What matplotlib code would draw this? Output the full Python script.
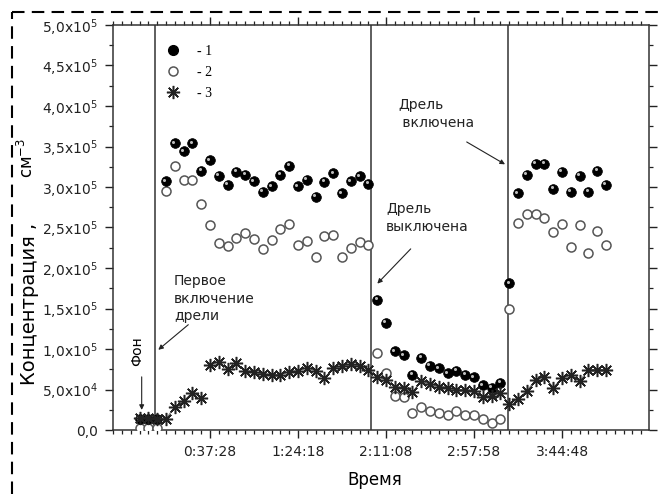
import numpy as np
import matplotlib
matplotlib.use("Agg")
import matplotlib.pyplot as plt
import matplotlib.transforms as mtransforms
from matplotlib.lines import Line2D
from matplotlib.ticker import FixedLocator, FuncFormatter, MultipleLocator

plt.rcParams["font.family"] = ["DejaVu Sans"]
plt.rcParams["mathtext.default"] = "regular"

# measurement times, seconds from the start of the run
t_sec = [0, 281, 562, 843, 1124, 1405, 1686, 1967, 2248, 2529,
         2810, 3091, 3372, 3653, 3934, 4215, 4496, 4777, 5058, 5339,
         5620, 5901, 6182, 6463, 6744, 7025, 7306, 7587, 7868, 8149,
         8430, 8711, 8992, 9273, 9554, 9835, 10116, 10397, 10678, 10959,
         11240, 11521, 11802, 12083, 12364, 12645, 12926, 13207, 13488, 13769,
         14050, 14331, 14612, 14893]

# concentrations, thousands of particles per cm^3
conc_1 = [13, 13, 13, 307, 354, 344, 354, 320, 333, 314,
          303, 319, 315, 307, 294, 301, 315, 326, 301, 309,
          288, 306, 317, 292, 307, 313, 304, 161, 132, 97,
          92, 68, 89, 79, 76, 70, 73, 68, 65, 55,
          52, 58, 181, 292, 315, 329, 329, 298, 319, 294,
          314, 294, 320, 303]
conc_2 = [2.5, 2.5, 2.5, 295, 326, 309, 309, 279, 253, 231,
          227, 237, 243, 236, 224, 234, 248, 254, 228, 233,
          214, 240, 241, 213, 225, 232, 229, 95, 70, 42,
          41, 21, 28, 23, 21, 19, 23, 19, 18, 13,
          9, 13, 149, 255, 267, 267, 262, 244, 254, 226,
          253, 219, 246, 229]
conc_3 = [14.5, 14.5, 14.0, 13.6, 28.8, 35.9, 46.2, 40.0, 80.4, 84.5,
          75.1, 82.5, 73.0, 72.2, 69.3, 68.1, 68.1, 72.2, 73.0, 77.1,
          73.0, 64.0, 76.4, 79.6, 81.3, 79.6, 74.3, 66.0, 61.9, 53.6,
          51.6, 46.7, 60.6, 56.6, 53.6, 52.4, 49.5, 49.5, 48.3, 41.2,
          42.4, 45.4, 31.8, 38.4, 48.3, 61.9, 66.0, 52.4, 64.0, 68.1,
          60.6, 74.3, 74.3, 74.3]

# drill switched on / off / on again
events_sec = [492, 7388, 11773]

t = np.array(t_sec)
c1 = np.array(conc_1) * 1e3
c2 = np.array(conc_2) * 1e3
c3 = np.array(conc_3) * 1e3

fig = plt.figure(figsize=(6.61, 4.94), dpi=100)
ax = fig.add_axes([113 / 661, 64 / 494, 536 / 661, 405 / 494])

ax.set_xlim(-849, 16264)
ax.set_ylim(0, 5e5)

for ev in events_sec:
    ax.axvline(ev, color="#333333", lw=1.1, zorder=1)

ax.plot(t, c2, "o", ms=6.5, mfc="white", mec="#555555", mew=1.1, zorder=3)
ax.plot(t, c1, "o", ms=7, mfc="black", mec="black", mew=0.5, zorder=4)
shine = mtransforms.offset_copy(ax.transData, fig=fig, x=-1.2, y=1.2, units="points")
ax.plot(t, c1, "o", ms=2.2, color="#bdbdbd", mew=0, transform=shine, zorder=4.5)

star = (8, 2, 0)
ax.plot(t[:8], c3[:8], "-", color="#777777", lw=0.8, zorder=5)
ax.plot(t[8:], c3[8:], "-", color="#777777", lw=0.8, zorder=5)
ax.plot(t, c3, ls="none", marker=star, ms=9.5, mec="#222222", mew=1.1, zorder=6)

# ticks
ax.xaxis.set_major_locator(FixedLocator([2248 + 2810 * i for i in range(5)]))
ax.xaxis.set_minor_locator(MultipleLocator(281))


def hms(v, pos=None):
    v = int(round(v))
    return "%d:%02d:%02d" % (v // 3600, v % 3600 // 60, v % 60)


def sci(v, pos=None):
    if abs(v) < 1:
        return "0,0"
    if v < 0:
        return ""
    e = int(np.floor(np.log10(v)))
    m = v / 10 ** e
    return ("%.1f" % m).replace(".", ",") + "x10$^{%d}$" % e


ax.xaxis.set_major_formatter(FuncFormatter(hms))
ax.yaxis.set_major_locator(MultipleLocator(5e4))
ax.yaxis.set_minor_locator(MultipleLocator(2.5e4))
ax.yaxis.set_major_formatter(FuncFormatter(sci))

ax.tick_params(which="both", direction="out", labelsize=10, colors="#222222")
ax.tick_params(which="major", length=6, width=1, pad=5)
ax.tick_params(which="minor", length=3, width=0.9)
ax.tick_params(which="both", top=True, right=True, labeltop=False, labelright=False)
for s in ax.spines.values():
    s.set_color("#333333")
    s.set_linewidth(1.1)

# legend
handles = [
    Line2D([], [], ls="none", marker="o", ms=7, mfc="black", mec="black"),
    Line2D([], [], ls="none", marker="o", ms=6.5, mfc="white", mec="#555555", mew=1.1),
    Line2D([], [], ls="none", marker=star, ms=9.5, mec="#222222", mew=1.1),
]
ax.legend(handles, ["- 1", "- 2", "- 3"], loc="upper left",
          bbox_to_anchor=(0.0965, 0.95), frameon=False, borderpad=0,
          borderaxespad=0, handlelength=1.2, handletextpad=1.1,
          labelspacing=0.58, prop={"family": "Liberation Serif", "size": 10})

# annotations
arrow = dict(arrowstyle="-|>", color="#222222", lw=0.8, mutation_scale=7, shrinkA=0, shrinkB=0)
ax.text(-93, 96.9e3, "Фон", rotation=90, ha="center", va="center", fontsize=10)
ax.annotate("", xy=(67, 24.8e3), xytext=(67, 65.6e3), arrowprops=arrow)

ax.text(1098, 192e3, "Первое\nвключение\nдрели", ha="left", va="top",
        fontsize=10, linespacing=1.3, color="#222222")
ax.annotate("", xy=(597, 99e3), xytext=(1555, 130e3), arrowprops=arrow)

ax.text(7867, 281e3, "Дрель\nвыключена", ha="left", va="top",
        fontsize=10, linespacing=1.3, color="#222222")
ax.annotate("", xy=(7590, 180.7e3), xytext=(8656, 223.6e3), arrowprops=arrow)

ax.text(8251, 409.6e3, "Дрель\n включена", ha="left", va="top",
        fontsize=10, linespacing=1.3, color="#222222")
ax.annotate("", xy=(11667, 328e3), xytext=(10444, 355.6e3), arrowprops=arrow)

# axis titles
fig.text(375 / 661, 1 - 480 / 494, "Время", ha="center", va="center", fontsize=12)
fig.text(30 / 661, 1 - 304 / 494, "Концентрация ,", rotation=90,
         ha="center", va="center", fontsize=14)
fig.text(27 / 661, 1 - 158 / 494, "см$^{-3}$", rotation=90,
         ha="center", va="center", fontsize=12)

# dashed frame
dash = dict(transform=fig.transFigure, color="black", lw=1.5, ls=(0, (6, 3.5)))
fig.add_artist(Line2D([12 / 661, 12 / 661], [0, 1 - 12 / 494], **dash))
fig.add_artist(Line2D([12 / 661, 1], [1 - 12 / 494, 1 - 12 / 494], **dash))

fig.savefig("out.png", dpi=100)
